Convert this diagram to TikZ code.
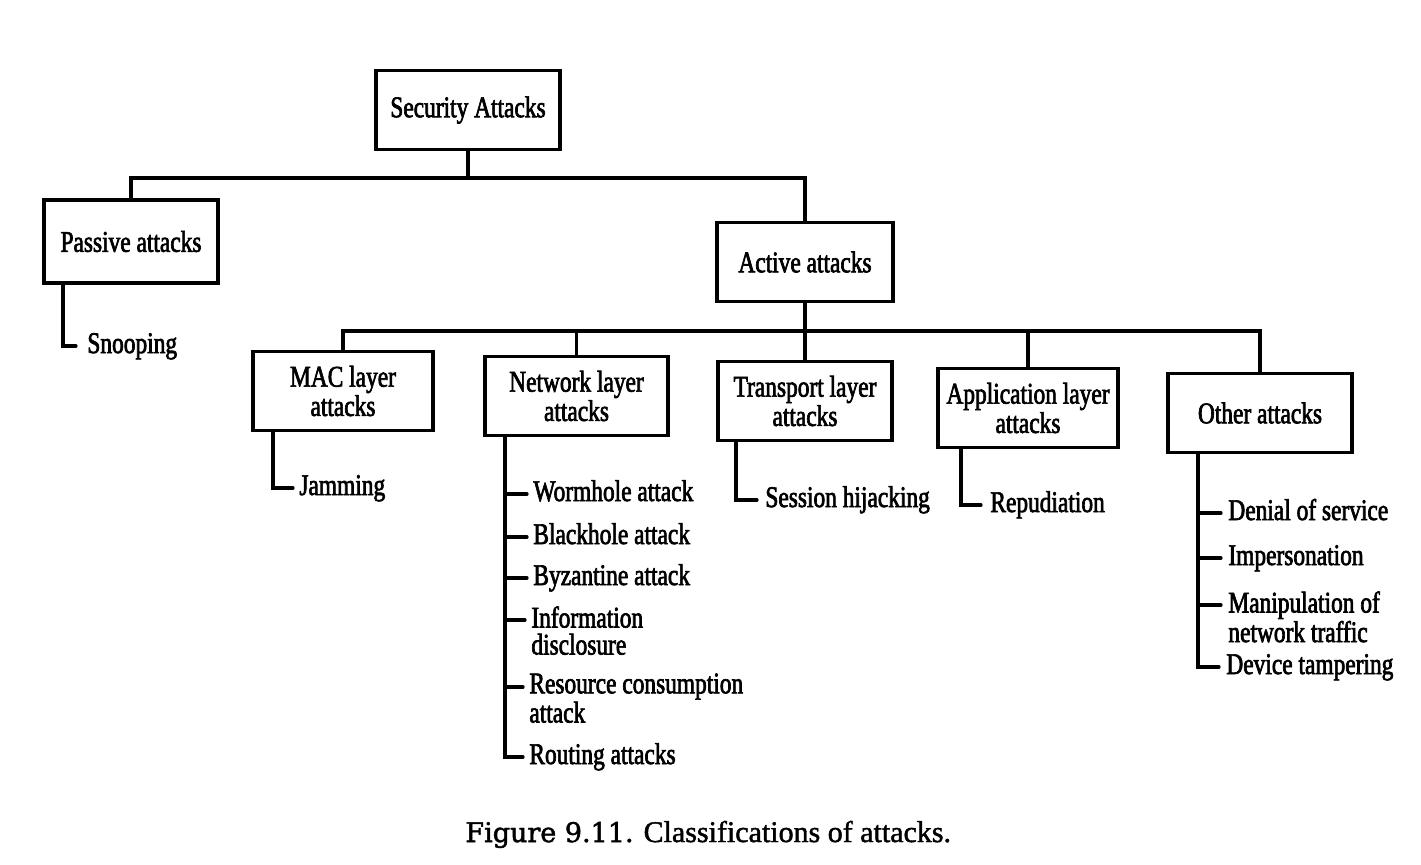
\documentclass[tikz,border=0pt]{standalone}
\usepackage{fontspec}
\newfontfamily\tfont{Liberation Serif}[FakeStretch=0.78,FakeBold=2.2]
\newfontfamily\cfont{Liberation Serif}[FakeBold=1.5]
\newfontfamily\figfont{DejaVu Serif}[FakeBold=1.8]
\tikzset{
  box/.style={draw, line width=1.7pt, minimum width=90pt, minimum height=39.5pt,
    align=center, inner sep=2pt, font=\tfont\fontsize{15}{12.5}\selectfont},
  leaf/.style={inner sep=0pt, align=left, font=\tfont\fontsize{15}{13.5}\selectfont},
  conn/.style={line width=1.6pt, line cap=round, line join=miter},
}
\begin{document}
\begin{tikzpicture}[x=0.5pt,y=-0.5pt]
\useasboundingbox (0,0) rectangle (1421,864);
\fill[white] (0,0) rectangle (1421,864);

% boxes
\node[box, minimum width=92pt] (sec) at (468,110) {Security Attacks};
\node[box, minimum width=87pt, minimum height=41.5pt] (pas) at (131,241.5) {Passive attacks};
\node[box, minimum width=88pt] (act) at (805,262) {Active attacks};
\node[box] (mac) at (343,391) {MAC layer\\attacks};
\node[box, minimum width=91.5pt] (net) at (576.5,396) {Network layer\\attacks};
\node[box, minimum width=87pt] (tra) at (805,401) {Transport layer\\attacks};
\node[box] (app) at (1028,408) {Application layer\\attacks};
\node[box, minimum width=92pt] (oth) at (1260,413) {Other attacks};

% bus coordinates
\coordinate (b1) at (0,178);
\coordinate (b2) at (0,331);

% level 1 connectors
\draw[conn] (sec.south) -- (sec.south |- b1);
\draw[conn] (pas.north) -- (pas.north |- b1) -- (act.north |- b1) -- (act.north);

% level 2 connectors
\draw[conn] (act.south) -- (act.south |- b2);
\draw[conn] (mac.north) -- (mac.north |- b2) -- (oth.north |- b2) -- (oth.north);
\draw[conn] (net.north) -- (net.north |- b2);
\draw[conn] (tra.north) -- (tra.north |- b2);
\draw[conn] (app.north) -- (app.north |- b2);

% vertical line x positions
\coordinate (px) at (63,0);
\coordinate (mx) at (273,0);
\coordinate (nx) at (505,0);
\coordinate (tx) at (736,0);
\coordinate (ax) at (961,0);
\coordinate (ox) at (1198,0);

% leaves
\node[leaf, anchor=base west] (snoop) at (87,353) {Snooping};
\node[leaf, anchor=base west] (jam) at (299,495) {Jamming};
\node[leaf, anchor=base west] (worm) at (533,501) {Wormhole attack};
\node[leaf, anchor=base west] (black) at (533,544) {Blackhole attack};
\node[leaf, anchor=base west] (byz) at (533,585) {Byzantine attack};
\node[leaf, anchor=north west] (info) at (531,606) {Information\\disclosure};
\node[leaf, anchor=north west] (res) at (529,673) {Resource consumption\\attack};
\node[leaf, anchor=base west] (rout) at (529,764) {Routing attacks};
\node[leaf, anchor=base west] (sess) at (765,507) {Session hijacking};
\node[leaf, anchor=base west] (repu) at (990,512) {Repudiation};
\node[leaf, anchor=base west] (dos) at (1228,520) {Denial of service};
\node[leaf, anchor=base west] (imp) at (1228,565) {Impersonation};
\node[leaf, anchor=north west] (man) at (1228,591) {Manipulation of\\network traffic};
\node[leaf, anchor=base west] (dev) at (1226,674) {Device tampering};

% tick end points
\coordinate (t-snoop) at ([shift={(-5.5pt,3.5pt)}]snoop.base west);
\coordinate (t-jam) at ([shift={(-3pt,3.5pt)}]jam.base west);
\coordinate (t-worm) at ([shift={(-3pt,3.5pt)}]worm.base west);
\coordinate (t-black) at ([shift={(-3pt,3.5pt)}]black.base west);
\coordinate (t-byz) at ([shift={(-3pt,3.5pt)}]byz.base west);
\coordinate (t-info) at ([shift={(-3pt,-7pt)}]info.north west);
\coordinate (t-res) at ([shift={(-3pt,-7pt)}]res.north west);
\coordinate (t-rout) at ([shift={(-3pt,3.5pt)}]rout.base west);
\coordinate (t-sess) at ([shift={(-4pt,3.5pt)}]sess.base west);
\coordinate (t-repu) at ([shift={(-4.5pt,3.5pt)}]repu.base west);
\coordinate (t-dos) at ([shift={(-3.5pt,3.5pt)}]dos.base west);
\coordinate (t-imp) at ([shift={(-3.5pt,3.5pt)}]imp.base west);
\coordinate (t-man) at ([shift={(-3.5pt,-7pt)}]man.north west);
\coordinate (t-dev) at ([shift={(-3.5pt,3.5pt)}]dev.base west);

% leaf connectors
\draw[conn] (pas.south -| px) |- (t-snoop);
\draw[conn] (mac.south -| mx) |- (t-jam);
\draw[conn] (net.south -| nx) |- (t-rout);
\foreach \t in {worm,black,byz,info,res} \draw[conn] (t-\t -| nx) -- (t-\t);
\draw[conn] (tra.south -| tx) |- (t-sess);
\draw[conn] (app.south -| ax) |- (t-repu);
\draw[conn] (oth.south -| ox) |- (t-dev);
\foreach \t in {dos,imp,man} \draw[conn] (t-\t -| ox) -- (t-\t);

% caption
\node[anchor=base west, inner sep=0pt] (cap) at (465,842)
  {{\figfont\fontsize{13.5}{16}\selectfont Figure 9.11.}\hspace{5pt}{\cfont\fontsize{15}{17}\selectfont Classifications of attacks.}};
\end{tikzpicture}
\end{document}
